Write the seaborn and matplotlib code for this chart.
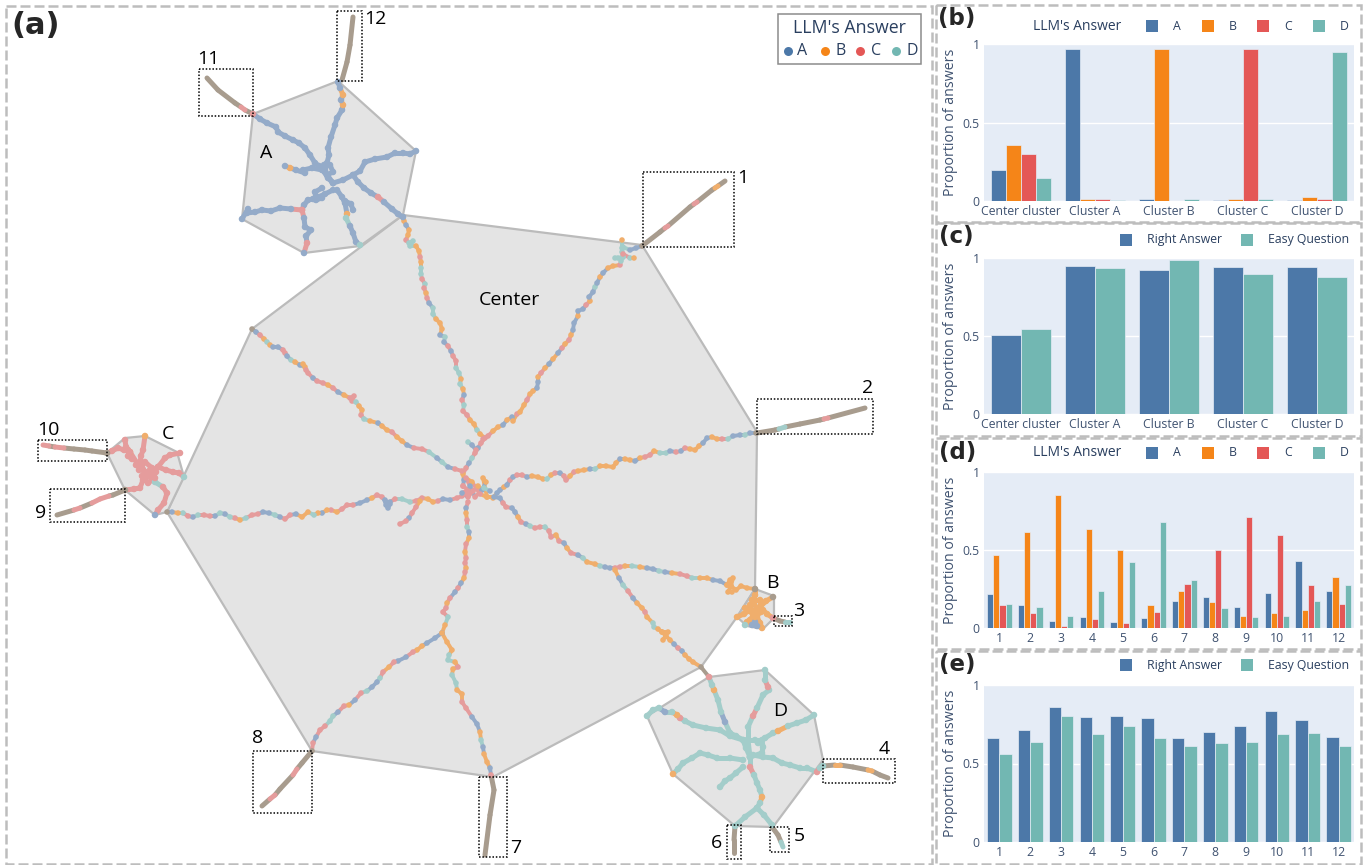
import matplotlib
matplotlib.use("Agg")
import matplotlib.pyplot as plt
from matplotlib.patches import Rectangle
import pandas as pd
import seaborn as sns

sns.set_theme(style="white")
plt.rcParams["font.family"] = ["Open Sans", "DejaVu Sans"]

W, H = 1369, 865
T10 = {"A": "#4C78A8", "B": "#F58518", "C": "#E45756", "D": "#72B7B2"}
PALE = {"A": "#94ABC9", "B": "#F0AE6C", "C": "#E59C9C", "D": "#A3CDCA", "M": "#A89C8E"}
INK = "#2a3f5f"

# ---- bar values
clusters = ["Center cluster", "Cluster A", "Cluster B", "Cluster C", "Cluster D"]
b_a = [0.20, 0.965, 0.012, 0.005, 0.005]
b_b = [0.355, 0.01, 0.965, 0.01, 0.025]
b_c = [0.30, 0.01, 0.001, 0.965, 0.012]
b_d = [0.145, 0.005, 0.012, 0.01, 0.95]
c_right = [0.505, 0.95, 0.925, 0.945, 0.94]
c_easy = [0.545, 0.935, 0.985, 0.90, 0.88]

tails = ["1", "2", "3", "4", "5", "6", "7", "8", "9", "10", "11", "12"]
d_a = [0.215, 0.145, 0.045, 0.07, 0.04, 0.065, 0.17, 0.20, 0.135, 0.225, 0.43, 0.24]
d_b = [0.47, 0.615, 0.85, 0.635, 0.50, 0.145, 0.24, 0.165, 0.075, 0.095, 0.115, 0.325]
d_c = [0.15, 0.095, 0.015, 0.055, 0.03, 0.10, 0.28, 0.50, 0.71, 0.595, 0.275, 0.155]
d_d = [0.155, 0.135, 0.08, 0.235, 0.42, 0.68, 0.305, 0.13, 0.07, 0.08, 0.175, 0.275]
e_right = [0.66, 0.715, 0.86, 0.795, 0.80, 0.79, 0.665, 0.70, 0.74, 0.835, 0.775, 0.67]
e_easy = [0.56, 0.64, 0.805, 0.685, 0.74, 0.665, 0.61, 0.63, 0.64, 0.685, 0.695, 0.61]

# ---- cluster outlines, read in pixels
hull_center = [(403, 215), (642, 245), (757, 432), (755, 589), (737, 617), (701, 667), (493, 777), (312, 751), (167, 512), (252, 329)]
hull_a = [(253, 114), (338, 81), (416, 151), (403, 215), (360, 246), (304, 253), (242, 219)]
hull_b = [(755, 589), (774, 596), (774, 618), (763, 629), (747, 626), (737, 617)]
hull_c = [(107, 453), (125, 438), (145, 436), (177, 452), (184, 477), (167, 512), (155, 515), (125, 490)]
hull_d = [(709, 677), (765, 670), (814, 715), (823, 760), (773, 827), (735, 826), (673, 774), (647, 716)]

# ---- boxes round the tails: left, top, right, bottom
boxes = [(643, 172, 734, 247), (757, 399, 873, 434), (774, 616, 792, 626), (823, 759, 895, 783),
         (770, 827, 789, 852), (727, 825, 741, 859), (479, 777, 507, 857), (253, 751, 312, 813),
         (50, 489, 125, 522), (38, 440, 107, 461), (199, 69, 253, 116), (337, 11, 362, 81)]
box_label_x = [743, 868, 799, 884, 799, 716, 516, 258, 41, 48, 208, 375]
box_label_y = [178, 388, 611, 749, 836, 843, 848, 738, 513, 430, 59, 19]

# ---- trajectories through the centre cluster: x, y, answer
north = [(403, 217, 'M'), (404, 221, 'B'), (406, 225, 'A'), (409, 230, 'B'), (408, 235, 'B'), (406, 240, 'C'), (409, 243, 'D'), (413, 241, 'D'), (410, 246, 'D'), (416, 246, 'B'), (419, 251, 'B'), (420, 257, 'C'), (421, 262, 'B'), (421, 268, 'D'), (421, 274, 'D'), (422, 279, 'C'), (425, 284, 'D'), (424, 288, 'C'), (426, 293, 'B'), (427, 298, 'C'), (429, 303, 'A'), (433, 308, 'D'), (433, 314, 'D'), (436, 319, 'B'), (440, 323, 'B'), (442, 329, 'B'), (440, 335, 'A'), (445, 337, 'D'), (444, 342, 'A'), (448, 346, 'C'), (451, 351, 'A'), (453, 356, 'C'), (456, 361, 'C'), (456, 368, 'D'), (459, 373, 'D'), (461, 379, 'B'), (460, 384, 'D'), (463, 389, 'B'), (464, 395, 'A'), (462, 400, 'C'), (464, 405, 'D'), (463, 411, 'C'), (467, 415, 'C'), (470, 420, 'B'), (474, 424, 'B'), (477, 430, 'D'), (480, 434, 'B'), (485, 438, 'C'), (481, 443, 'C'), (478, 448, 'A'), (475, 453, 'C'), (472, 458, 'D'), (469, 463, 'A'), (466, 468, 'C'), (463, 474, 'B'), (464, 480, 'A'), (463, 486, 'C')]
north_east = [(483, 439, 'C'), (488, 436, 'C'), (493, 431, 'B'), (498, 427, 'B'), (503, 425, 'A'), (507, 420, 'B'), (512, 417, 'A'), (513, 421, 'B'), (517, 414, 'C'), (520, 412, 'B'), (524, 405, 'B'), (527, 400, 'C'), (530, 394, 'B'), (533, 391, 'B'), (537, 388, 'A'), (538, 382, 'A'), (538, 377, 'B'), (541, 373, 'C'), (545, 368, 'B'), (549, 364, 'A'), (553, 359, 'B'), (558, 353, 'A'), (562, 348, 'C'), (565, 344, 'B'), (569, 340, 'C'), (571, 335, 'B'), (573, 330, 'A'), (574, 323, 'A'), (578, 316, 'B'), (578, 311, 'A'), (583, 309, 'A'), (586, 305, 'C'), (590, 301, 'B'), (589, 297, 'A'), (593, 292, 'A'), (595, 287, 'D'), (597, 283, 'A'), (600, 277, 'B'), (603, 273, 'A'), (608, 268, 'B'), (613, 266, 'B'), (620, 265, 'C'), (621, 261, 'D'), (623, 257, 'D'), (622, 252, 'D'), (623, 247, 'D'), (630, 250, 'A'), (636, 248, 'A'), (642, 246, 'M')]
north_east_spur = [(623, 257, 'D'), (618, 258, 'D'), (615, 258, 'D')]
north_east_side = [(623, 254, 'C'), (630, 258, 'D'), (634, 258, 'B')]
north_east_top = [(622, 248, 'D'), (622, 240, 'B')]
north_spur = [(468, 442, 'D'), (472, 445, 'A'), (476, 450, 'C')]
north_west = [(252, 329, 'M'), (256, 332, 'A'), (260, 335, 'C'), (264, 339, 'B'), (267, 342, 'D'), (270, 345, 'B'), (273, 347, 'A'), (278, 347, 'A'), (283, 350, 'C'), (285, 353, 'C'), (287, 356, 'A'), (291, 360, 'D'), (295, 362, 'B'), (300, 365, 'A'), (305, 367, 'B'), (303, 364, 'B'), (306, 370, 'C'), (308, 373, 'C'), (313, 378, 'A'), (317, 381, 'C'), (323, 383, 'C'), (328, 385, 'B'), (333, 388, 'C'), (338, 392, 'A'), (344, 395, 'B'), (350, 398, 'C'), (354, 396, 'C'), (352, 401, 'C'), (356, 402, 'D'), (359, 406, 'B'), (362, 410, 'B'), (361, 415, 'C'), (364, 419, 'D'), (370, 421, 'B'), (378, 423, 'A'), (382, 426, 'B'), (387, 430, 'B'), (392, 432, 'C'), (397, 437, 'B'), (402, 441, 'B'), (407, 445, 'A'), (414, 448, 'C'), (422, 449, 'C'), (429, 452, 'D'), (437, 458, 'A'), (442, 462, 'D'), (448, 467, 'A'), (455, 469, 'C'), (462, 471, 'C')]
east = [(493, 498, 'B'), (497, 493, 'A'), (500, 490, 'A'), (504, 487, 'B'), (507, 485, 'A'), (510, 480, 'C'), (513, 477, 'A'), (517, 475, 'C'), (522, 475, 'C'), (527, 477, 'A'), (532, 476, 'B'), (538, 477, 'B'), (543, 479, 'B'), (547, 479, 'D'), (551, 475, 'B'), (555, 473, 'C'), (560, 473, 'A'), (564, 476, 'C'), (566, 480, 'C'), (570, 476, 'B'), (574, 472, 'C'), (578, 471, 'B'), (584, 470, 'B'), (590, 469, 'A'), (595, 469, 'D'), (600, 466, 'B'), (606, 466, 'B'), (613, 467, 'B'), (616, 463, 'B'), (620, 459, 'A'), (625, 459, 'B'), (630, 460, 'B'), (635, 461, 'A'), (640, 458, 'B'), (645, 457, 'C'), (650, 455, 'C'), (654, 451, 'B'), (660, 453, 'D'), (666, 453, 'D'), (670, 451, 'A'), (676, 452, 'C'), (681, 451, 'A'), (685, 448, 'C'), (690, 449, 'B'), (695, 450, 'B'), (699, 446, 'B'), (703, 443, 'A'), (707, 438, 'A'), (712, 437, 'B'), (717, 439, 'B'), (722, 439, 'C'), (728, 439, 'D'), (733, 436, 'A'), (740, 435, 'A'), (745, 435, 'D'), (750, 433, 'A'), (756, 433, 'M')]
south_east = [(487, 497, 'B'), (494, 497, 'A'), (500, 498, 'A'), (503, 503, 'C'), (506, 507, 'C'), (512, 508, 'A'), (515, 512, 'A'), (518, 517, 'B'), (521, 522, 'C'), (526, 524, 'A'), (530, 526, 'D'), (535, 528, 'C'), (540, 527, 'C'), (545, 527, 'D'), (549, 531, 'C'), (551, 537, 'C'), (556, 535, 'B'), (559, 541, 'C'), (564, 543, 'A'), (567, 548, 'B'), (571, 553, 'C'), (578, 555, 'A'), (583, 558, 'D'), (587, 562, 'B'), (595, 564, 'B'), (600, 566, 'D'), (605, 567, 'A'), (610, 568, 'A'), (615, 568, 'C'), (620, 567, 'C'), (625, 566, 'B'), (632, 566, 'D'), (640, 567, 'B'), (647, 568, 'A'), (653, 569, 'A'), (659, 571, 'D'), (665, 572, 'A'), (672, 573, 'B'), (680, 574, 'C'), (687, 576, 'C'), (692, 578, 'D'), (700, 578, 'B'), (707, 578, 'B'), (713, 580, 'A'), (720, 581, 'A'), (727, 585, 'B'), (731, 586, 'B'), (736, 590, 'B'), (741, 586, 'B'), (747, 588, 'B'), (755, 589, 'M')]
south_east_spur = [(727, 585, 'B'), (730, 580, 'B'), (733, 578, 'B'), (731, 586, 'B'), (728, 592, 'B'), (732, 592, 'B')]
south_east_low = [(615, 570, 'B'), (619, 578, 'A'), (623, 585, 'D'), (628, 591, 'C'), (633, 598, 'A'), (637, 603, 'B'), (642, 608, 'B'), (645, 612, 'C'), (647, 617, 'B'), (653, 623, 'D'), (654, 627, 'D'), (658, 629, 'B'), (662, 632, 'B'), (666, 636, 'B'), (670, 640, 'B'), (674, 644, 'A'), (678, 648, 'C'), (682, 651, 'A'), (685, 655, 'B'), (689, 659, 'B'), (693, 662, 'B'), (701, 667, 'M'), (709, 677, 'M')]
south_east_low_b = [(662, 632, 'B'), (668, 632, 'B'), (663, 640, 'B')]
west = [(468, 492, 'C'), (462, 496, 'C'), (457, 498, 'C'), (450, 500, 'A'), (443, 499, 'A'), (438, 501, 'C'), (433, 502, 'B'), (428, 499, 'B'), (422, 498, 'C'), (416, 501, 'C'), (410, 502, 'D'), (402, 499, 'D'), (395, 499, 'C'), (390, 502, 'A'), (386, 502, 'A'), (382, 497, 'C'), (377, 495, 'C'), (372, 498, 'B'), (367, 500, 'A'), (360, 503, 'A'), (353, 505, 'C'), (347, 505, 'C'), (342, 509, 'C'), (337, 512, 'B'), (331, 510, 'C'), (327, 510, 'B'), (322, 513, 'A'), (318, 513, 'B'), (314, 515, 'D'), (308, 512, 'B'), (302, 517, 'B'), (296, 514, 'A'), (290, 515, 'C'), (285, 519, 'C'), (280, 517, 'A'), (275, 515, 'D'), (269, 513, 'A'), (263, 512, 'A'), (258, 514, 'C'), (252, 515, 'C'), (246, 518, 'D'), (240, 520, 'B'), (235, 518, 'C'), (230, 517, 'D'), (225, 514, 'A'), (220, 513, 'D'), (215, 516, 'A'), (210, 516, 'C'), (204, 515, 'C'), (198, 515, 'D'), (193, 517, 'A'), (188, 516, 'C'), (183, 513, 'D'), (178, 513, 'B'), (172, 512, 'A'), (167, 512, 'M')]
west_spur = [(420, 501, 'B'), (416, 507, 'C'), (412, 513, 'C'), (409, 518, 'A'), (406, 521, 'C'), (400, 524, 'C')]
west_stub = [(385, 500, 'A'), (386, 505, 'A'), (388, 508, 'A'), (390, 504, 'A')]
south = [(468, 502, 'C'), (466, 508, 'A'), (466, 513, 'B'), (467, 520, 'C'), (467, 527, 'D'), (469, 532, 'A'), (469, 538, 'B'), (466, 544, 'C'), (465, 552, 'B'), (466, 558, 'C'), (465, 563, 'C'), (466, 568, 'B'), (465, 572, 'C'), (464, 578, 'B'), (461, 583, 'A'), (458, 588, 'C'), (455, 592, 'A'), (450, 598, 'C'), (447, 603, 'B'), (446, 608, 'C'), (443, 612, 'C'), (448, 617, 'D'), (445, 625, 'B'), (442, 633, 'B')]
south_west = [(442, 633, 'A'), (435, 638, 'A'), (427, 643, 'A'), (422, 646, 'B'), (417, 650, 'B'), (413, 652, 'C'), (406, 657, 'A'), (398, 661, 'A'), (394, 662, 'C'), (389, 667, 'B'), (383, 672, 'C'), (380, 678, 'D'), (377, 682, 'A'), (372, 687, 'A'), (367, 691, 'D'), (361, 693, 'C'), (355, 700, 'A'), (349, 705, 'B'), (344, 706, 'C'), (338, 712, 'A'), (333, 716, 'D'), (330, 721, 'D'), (325, 726, 'C'), (320, 730, 'C'), (316, 737, 'A'), (313, 743, 'C'), (312, 751, 'M')]
south_low = [(442, 633, 'B'), (447, 642, 'B'), (452, 650, 'B'), (449, 655, 'D'), (448, 660, 'D'), (455, 662, 'B'), (458, 667, 'C'), (453, 669, 'B'), (452, 675, 'D'), (456, 683, 'D'), (457, 690, 'B'), (462, 694, 'B'), (462, 702, 'C'), (466, 708, 'C'), (472, 717, 'A'), (477, 724, 'A'), (480, 732, 'B'), (481, 740, 'D'), (483, 747, 'A'), (484, 754, 'B'), (487, 762, 'B'), (490, 768, 'A'), (491, 775, 'C')]
hub = [(463, 486, 'C'), (468, 490, 'C'), (462, 493, 'A'), (468, 497, 'C'), (473, 491, 'C'), (478, 486, 'B'), (482, 490, 'A'), (486, 482, 'B'), (483, 478, 'B'), (487, 497, 'B'), (480, 494, 'C'), (472, 482, 'B'), (466, 478, 'C'), (470, 486, 'A'), (475, 497, 'C'), (484, 488, 'D'), (490, 491, 'A')]

# ---- clusters A, B, C, D
a_paths = [
    [(333, 183, 'A'), (328, 178, 'A'), (323, 170, 'A'), (319, 166, 'A'), (315, 163, 'A'), (310, 155, 'A'), (305, 148, 'A'), (299, 143, 'A'), (293, 140, 'A'), (285, 136, 'A'), (278, 132, 'A'), (276, 127, 'A'), (267, 123, 'A'), (260, 119, 'A'), (253, 114, 'C')],
    [(333, 183, 'A'), (325, 172, 'A'), (327, 163, 'A'), (329, 155, 'A'), (328, 148, 'A'), (331, 137, 'A'), (335, 125, 'A'), (337, 118, 'A'), (342, 110, 'A'), (343, 105, 'B'), (341, 100, 'A'), (343, 95, 'B'), (340, 88, 'A'), (338, 82, 'A')],
    [(333, 183, 'A'), (343, 180, 'A'), (353, 175, 'A'), (360, 171, 'A'), (365, 162, 'A'), (375, 159, 'A'), (387, 157, 'A'), (395, 153, 'A'), (403, 153, 'A'), (410, 154, 'A'), (416, 151, 'A')],
    [(353, 175, 'A'), (358, 182, 'A'), (364, 188, 'A'), (371, 193, 'A'), (378, 197, 'C'), (384, 202, 'A'), (392, 209, 'A'), (398, 214, 'A'), (403, 217, 'A')],
    [(337, 190, 'A'), (342, 197, 'A'), (345, 203, 'A'), (347, 214, 'B'), (346, 218, 'D'), (350, 226, 'A'), (353, 233, 'A'), (356, 242, 'A'), (360, 245, 'D')],
    [(345, 201, 'A'), (351, 204, 'A'), (353, 210, 'A')],
    [(333, 190, 'A'), (325, 194, 'A'), (318, 197, 'A'), (313, 199, 'A'), (308, 200, 'A'), (304, 205, 'A'), (302, 210, 'C'), (304, 218, 'A'), (305, 227, 'A'), (311, 230, 'A'), (306, 236, 'A'), (307, 243, 'C'), (304, 253, 'A')],
    [(322, 188, 'A'), (315, 192, 'A'), (316, 200, 'A'), (322, 198, 'A')],
    [(302, 210, 'C'), (291, 209, 'A'), (280, 208, 'A'), (271, 211, 'A'), (262, 210, 'A'), (255, 212, 'A'), (247, 213, 'A'), (248, 209, 'A'), (242, 219, 'A')],
    [(322, 170, 'A'), (312, 168, 'A'), (303, 170, 'A'), (305, 173, 'A'), (296, 170, 'A'), (290, 168, 'B'), (285, 166, 'A')],
    [(324, 165, 'A'), (327, 175, 'A'), (333, 172, 'A'), (330, 165, 'A')],
]
b_paths = [
    [(757, 610, 'B'), (753, 600, 'B'), (755, 595, 'B'), (755, 589, 'M')],
    [(757, 610, 'B'), (760, 607, 'B'), (766, 601, 'B'), (773, 597, 'M')],
    [(757, 610, 'B'), (763, 610, 'B'), (767, 614, 'B'), (773, 618, 'C')],
    [(757, 610, 'B'), (757, 617, 'B'), (760, 623, 'B'), (762, 628, 'B')],
    [(757, 610, 'B'), (750, 620, 'B'), (747, 622, 'B'), (745, 625, 'D')],
    [(757, 610, 'B'), (750, 610, 'B'), (744, 614, 'B'), (737, 617, 'B')],
    [(755, 622, 'A'), (750, 605, 'B'), (753, 614, 'B'), (745, 608, 'B')],
    [(752, 600, 'B'), (760, 600, 'B'), (761, 612, 'B'), (755, 617, 'B')],
    [(752, 625, 'A'), (757, 626, 'A')],
]
c_paths = [
    [(147, 475, 'C'), (140, 463, 'C'), (141, 456, 'C'), (143, 450, 'C'), (145, 436, 'B')],
    [(147, 475, 'C'), (137, 463, 'C'), (130, 452, 'B'), (126, 447, 'C'), (125, 440, 'C')],
    [(130, 452, 'C'), (124, 450, 'C'), (118, 448, 'C'), (112, 451, 'C'), (107, 453, 'M')],
    [(128, 450, 'C'), (128, 456, 'C'), (132, 459, 'C')],
    [(147, 475, 'C'), (143, 480, 'C'), (140, 488, 'C'), (134, 489, 'C'), (125, 490, 'M')],
    [(147, 475, 'C'), (158, 467, 'C'), (165, 458, 'C'), (170, 455, 'C'), (180, 453, 'C')],
    [(158, 467, 'C'), (166, 470, 'C'), (173, 472, 'C'), (179, 473, 'C'), (184, 477, 'D')],
    [(147, 475, 'C'), (155, 482, 'D'), (163, 487, 'C'), (167, 493, 'C'), (164, 503, 'C'), (158, 510, 'C'), (155, 515, 'A')],
    [(139, 470, 'C'), (145, 462, 'C'), (152, 468, 'C'), (155, 478, 'C'), (148, 483, 'C'), (142, 476, 'C'), (150, 470, 'C')],
    [(136, 465, 'C'), (143, 470, 'C'), (151, 476, 'C'), (156, 472, 'C')],
]
d_paths = [
    [(750, 757, 'D'), (746, 748, 'D'), (743, 740, 'D'), (736, 736, 'D'), (730, 733, 'D'), (725, 722, 'A'), (721, 712, 'D'), (718, 700, 'D'), (714, 690, 'B'), (712, 685, 'D'), (709, 677, 'C')],
    [(750, 757, 'D'), (748, 740, 'D'), (748, 727, 'D'), (753, 716, 'C'), (757, 708, 'D'), (763, 695, 'D'), (769, 690, 'D'), (768, 687, 'C'), (765, 680, 'D'), (765, 670, 'D')],
    [(758, 743, 'D'), (765, 738, 'D'), (773, 733, 'D'), (778, 731, 'B'), (788, 726, 'D'), (797, 723, 'D'), (806, 720, 'D'), (814, 715, 'D')],
    [(753, 755, 'D'), (763, 757, 'D'), (773, 758, 'D'), (782, 763, 'D'), (790, 765, 'D'), (800, 768, 'D'), (807, 768, 'D'), (817, 772, 'C'), (820, 768, 'D'), (823, 766, 'D')],
    [(750, 757, 'D'), (750, 767, 'C'), (754, 775, 'D'), (757, 783, 'D'), (760, 790, 'D'), (762, 797, 'B'), (760, 803, 'D'), (757, 808, 'D'), (764, 815, 'D'), (772, 825, 'D')],
    [(757, 808, 'D'), (745, 817, 'D'), (735, 826, 'D')],
    [(743, 760, 'D'), (730, 758, 'D'), (717, 758, 'D'), (708, 755, 'D'), (700, 753, 'D'), (692, 758, 'D'), (683, 763, 'D'), (678, 769, 'D'), (673, 774, 'B')],
    [(743, 767, 'D'), (736, 773, 'D'), (730, 778, 'D'), (725, 781, 'D'), (720, 787, 'D')],
    [(743, 740, 'D'), (730, 736, 'D'), (720, 730, 'D'), (706, 728, 'D'), (693, 725, 'D'), (685, 721, 'D'), (680, 718, 'C'), (677, 715, 'B'), (672, 712, 'D'), (665, 712, 'A'), (659, 708, 'D'), (653, 710, 'D'), (647, 716, 'D')],
    [(747, 740, 'D'), (755, 740, 'D'), (762, 740, 'D'), (763, 747, 'D'), (762, 753, 'D'), (750, 757, 'D')],
]

# ---- tails leaving the hulls
tail_paths = [
    [(642, 246, 'M'), (660, 232, 'M'), (665, 228, 'C'), (668, 226, 'M'), (690, 207, 'M'), (694, 204, 'C'), (697, 202, 'M'), (712, 190, 'M'), (715, 188, 'B'), (718, 186, 'M'), (725, 181, 'M')],
    [(757, 433, 'M'), (775, 430, 'M'), (779, 429, 'D'), (785, 427, 'M'), (800, 424, 'M'), (820, 420, 'M'), (824, 419, 'C'), (828, 418, 'M'), (865, 408, 'M')],
    [(773, 618, 'M'), (780, 621, 'M'), (785, 622, 'D'), (790, 622, 'D')],
    [(823, 766, 'M'), (835, 765, 'B'), (840, 765, 'M'), (853, 767, 'M'), (868, 770, 'B'), (872, 771, 'M'), (880, 775, 'M'), (888, 778, 'M')],
    [(772, 827, 'M'), (778, 835, 'M'), (781, 842, 'D'), (783, 847, 'C')],
    [(735, 826, 'M'), (734, 840, 'M'), (734, 853, 'M')],
    [(491, 775, 'M'), (494, 790, 'M'), (490, 815, 'M'), (485, 855, 'M')],
    [(312, 751, 'M'), (302, 763, 'M'), (297, 769, 'C'), (293, 775, 'M'), (280, 789, 'M'), (275, 795, 'C'), (270, 799, 'M'), (262, 806, 'M')],
    [(125, 490, 'M'), (113, 495, 'M'), (109, 496, 'C'), (100, 499, 'C'), (92, 503, 'M'), (80, 508, 'C'), (74, 510, 'M'), (57, 515, 'M')],
    [(107, 453, 'M'), (92, 451, 'M'), (85, 450, 'M'), (74, 449, 'M'), (64, 448, 'C'), (55, 447, 'M'), (49, 446, 'C'), (43, 445, 'C')],
    [(253, 114, 'M'), (245, 110, 'C'), (241, 107, 'M'), (235, 103, 'M'), (218, 90, 'M'), (207, 78, 'M')],
    [(342, 80, 'M'), (347, 62, 'M'), (350, 45, 'M'), (353, 17, 'M')],
]

centre_paths = [north, north_east, north_east_spur, north_east_side, north_east_top, north_spur, north_west, east, south_east,
                south_east_spur, south_east_low, south_east_low_b, west, west_spur, west_stub, south, south_west, south_low, hub]
cluster_paths = a_paths + b_paths + c_paths + d_paths

fig = plt.figure(figsize=(W / 100, H / 100), dpi=100)
ax = fig.add_axes([0, 0, 1, 1])

for hull in [hull_center, hull_a, hull_b, hull_c, hull_d]:
    ax.fill([p[0] for p in hull], [p[1] for p in hull], facecolor="#E4E4E4", edgecolor="#BBBBBB",
            linewidth=1.6, joinstyle="round", zorder=1)


def segments(paths):
    rows = []
    seg = 0
    for path in paths:
        for p, q in zip(path[:-1], path[1:]):
            rows.append((p[0], p[1], p[2], seg))
            rows.append((q[0], q[1], p[2], seg))
            seg += 1
    return pd.DataFrame(rows, columns=["x", "y", "answer", "seg"])


def bead_table(paths):
    return pd.DataFrame([p for path in paths for p in path], columns=["x", "y", "answer"])


for paths, width, bead in [(centre_paths, 2.8, 16), (cluster_paths, 3.6, 22)]:
    sns.lineplot(data=segments(paths), x="x", y="y", hue="answer", units="seg", estimator=None, sort=False,
                 palette=PALE, linewidth=width, solid_capstyle="round", legend=False, ax=ax, zorder=2)
    sns.scatterplot(data=bead_table(paths), x="x", y="y", hue="answer", palette=PALE, s=bead, linewidth=0,
                    legend=False, ax=ax, zorder=3)
sns.lineplot(data=segments(tail_paths), x="x", y="y", hue="answer", units="seg", estimator=None, sort=False,
             palette=PALE, linewidth=3.6, solid_capstyle="round", legend=False, ax=ax, zorder=2)

for (x0, y0, x1, y1), lx, ly, name in zip(boxes, box_label_x, box_label_y, tails):
    ax.add_patch(Rectangle((x0, y0), x1 - x0, y1 - y0, fill=False, edgecolor="black", linewidth=1.1,
                           linestyle=(0, (1, 1.2)), zorder=4))
    ax.text(lx, ly, name, fontsize=14, color="black", ha="center", va="center", zorder=5)

ax.text(509, 300, "Center", fontsize=14, color="black", ha="center", va="center", zorder=5)
ax.text(266, 153, "A", fontsize=14, color="black", ha="center", va="center", zorder=5)
ax.text(772, 583, "B", fontsize=14, color="black", ha="center", va="center", zorder=5)
ax.text(168, 434, "C", fontsize=14, color="black", ha="center", va="center", zorder=5)
ax.text(780, 711, "D", fontsize=14, color="black", ha="center", va="center", zorder=5)

# panel frames
for x0, y0, x1, y1 in [(6, 6, 932, 864), (936, 5, 1361, 222), (936, 223, 1361, 436), (936, 438, 1361, 649), (936, 651, 1361, 864)]:
    ax.add_patch(Rectangle((x0, y0), x1 - x0, y1 - y0, fill=False, edgecolor="#BDBDBD", linewidth=1.8,
                           linestyle=(0, (4, 1.6)), zorder=1))

for label, x, y, size in [("(a)", 11, 25, 22), ("(b)", 938, 18, 16.5), ("(c)", 939, 237, 16.5), ("(d)", 939, 452, 16.5), ("(e)", 939, 665, 16.5)]:
    ax.text(x, y, label, fontsize=size, fontweight="bold", family="DejaVu Sans", color="#262626", ha="left", va="center", zorder=6)

# legend of panel a
ax.add_patch(Rectangle((778, 14), 143, 50, facecolor="white", edgecolor="#8C8C8C", linewidth=1.1, zorder=5))
ax.text(849, 28, "LLM's Answer", fontsize=12.8, color=INK, ha="center", va="center", zorder=6)
for name, mx, tx in zip("ABCD", [788, 825, 860, 896], [802, 841, 876, 912]):
    ax.scatter([mx], [51], s=42, color=T10[name], linewidth=0, zorder=6)
    ax.text(tx, 51, name, fontsize=11.5, color=INK, ha="center", va="center", zorder=6)


def answer_legend(y):
    ax.text(1033, y, "LLM's Answer", fontsize=10, color=INK, ha="left", va="center", zorder=6)
    for name, sx, tx in zip("ABCD", [1152, 1208, 1263, 1319], [1177, 1233, 1288, 1344]):
        ax.scatter([sx], [y], s=72, marker="s", color=T10[name], linewidth=0, zorder=6)
        ax.text(tx, y, name, fontsize=8.8, color=INK, ha="center", va="center", zorder=6)


def quality_legend(y):
    ax.scatter([1126], [y], s=72, marker="s", color=T10["A"], linewidth=0, zorder=6)
    ax.text(1147, y, "Right Answer", fontsize=8.8, color=INK, ha="left", va="center", zorder=6)
    ax.scatter([1247], [y], s=72, marker="s", color=T10["D"], linewidth=0, zorder=6)
    ax.text(1268, y, "Easy Question", fontsize=8.8, color=INK, ha="left", va="center", zorder=6)


answer_legend(26)
quality_legend(240)
answer_legend(453)
quality_legend(665)

ax.set_xlim(0, W)
ax.set_ylim(H, 0)
ax.set_axis_off()


def bar_panel(top, bottom, cats, series, colors):
    bar_ax = fig.add_axes([984 / W, 1 - bottom / H, 370 / W, (bottom - top) / H])
    table = pd.DataFrame([(c, name, v) for name, vals in series.items() for c, v in zip(cats, vals)],
                         columns=["group", "series", "value"])
    sns.barplot(data=table, x="group", y="value", hue="series", palette=colors, saturation=1, width=0.8,
                edgecolor="#E5ECF6", linewidth=0.5, legend=False, ax=bar_ax, zorder=3)
    bar_ax.set_facecolor("#E5ECF6")
    for side in bar_ax.spines.values():
        side.set_visible(False)
    bar_ax.set_xlim(-0.5, len(cats) - 0.5)
    bar_ax.set_ylim(0, 1)
    bar_ax.set_yticks([0, 0.5, 1], ["0", "0.5", "1"])
    bar_ax.grid(axis="y", color="white", linewidth=1)
    bar_ax.set_axisbelow(True)
    bar_ax.tick_params(length=0, labelsize=8.8, labelcolor="#3F5270", pad=3)
    bar_ax.set_xlabel("")
    bar_ax.set_ylabel("Proportion of answers", fontsize=10.2, color="#3F5270")
    bar_ax.yaxis.set_label_coords(-0.07, 0.5)
    return bar_ax


answer_colors = [T10["A"], T10["B"], T10["C"], T10["D"]]
quality_colors = [T10["A"], T10["D"]]
bar_panel(44, 201, clusters, {"A": b_a, "B": b_b, "C": b_c, "D": b_d}, answer_colors)
bar_panel(258, 414, clusters, {"Right Answer": c_right, "Easy Question": c_easy}, quality_colors)
bar_panel(472, 628, tails, {"A": d_a, "B": d_b, "C": d_c, "D": d_d}, answer_colors)
bar_panel(685, 842, tails, {"Right Answer": e_right, "Easy Question": e_easy}, quality_colors)

plt.savefig("out.png", dpi=100)
